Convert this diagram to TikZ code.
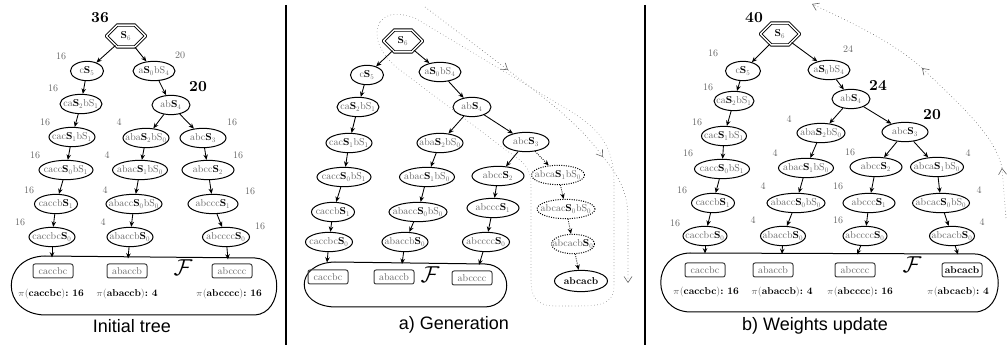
\documentclass[tikz,border=0pt]{standalone}
\usepackage{fontspec}
\setsansfont{Liberation Sans}
\newfontfamily\tenrm{lmroman10-regular}[Extension=.otf, BoldFont=lmroman10-bold]
\usetikzlibrary{shapes.geometric,shapes.misc,arrows.meta}
\definecolor{tg}{gray}{0.4}
\newcommand{\myB}[1]{\textcolor{black}{\textbf{S}}\textsubscript{#1}}
\newcommand{\myN}[1]{S\textsubscript{#1}}
\newcommand{\myP}[2]{\textcolor{tg}{$\pi$(}\textbf{#1}\textcolor{tg}{)}\textbf{:\ #2}}
\newcommand{\nfont}{\tenrm\fontsize{7.5}{9}\selectfont}
\tikzset{
 nd/.style={ellipse, draw, line width=0.75pt, inner xsep=-30pt, inner ysep=-10pt, minimum width={#1*0.75pt}, minimum height=14.5pt, font=\nfont, text=tg},
 nd/.default=46,
 dnd/.style={nd=#1, densely dotted},
 dnd/.default=46,
 rootnd/.style={chamfered rectangle, chamfered rectangle xsep=4pt, chamfered rectangle ysep=4pt, draw, double, double distance=1.1pt, line width=0.65pt, minimum width=29pt, minimum height=16pt, inner sep=1pt, font=\nfont, text=tg},
 bx/.style={rounded corners=1.5pt, draw=black!75, line width=0.75pt, minimum width=30pt, minimum height=10.5pt, inner sep=1.2pt, font=\nfont, text=tg},
 wt/.style={font=\nfont, text=tg},
 bw/.style={font=\tenrm\fontsize{11.5}{13}\selectfont\bfseries},
 ed/.style={-{Stealth[length=4pt,width=3.4pt]}, line width=0.65pt},
 ded/.style={ed, densely dotted},
 pl/.style={font=\nfont},
 blob/.style={line width=0.75pt},
 encl/.style={dotted, draw=black!55, line width=0.4pt},
 garr/.style={dotted, draw=black!60, line width=0.45pt, -{Straight Barb[length=4.5pt,width=6pt]}},
 capt/.style={font=\fontsize{13.5}{16}\selectfont\sffamily},
 sep/.style={line width=0.8pt}
}
\begin{document}
\begin{tikzpicture}[x=0.75pt,y=-0.75pt]
\useasboundingbox (0,0) rectangle (1007,345);
% separators
\coordinate (s1a) at (286,5); \coordinate (s1b) at (286,345);
\coordinate (s2a) at (645,5); \coordinate (s2b) at (645,345);
\draw[sep] (s1a) -- (s1b);
\draw[sep] (s2a) -- (s2b);

%================ LEFT PANEL
\draw[blob] (45,256) -- (255,258) .. controls (284,259) and (284,313) .. (255,315) -- (45,315) .. controls (0,314) and (0,257) .. (45,256) -- cycle;
\node[rootnd] (L0) at (126,36) {\myB{6}};
\node[nd=33] (L1) at (87,71) {c\myB{5}};
\node[nd=42] (L2) at (154,71) {a\myB{0}b\myN{4}};
\node[nd=42] (L3) at (81,104) {ca\myB{2}b\myN{1}};
\node[nd=38] (L4) at (171,105) {ab\myB{4}};
\node[nd=46] (L5) at (72,137) {cac\myB{1}b\myN{1}};
\node[nd=46] (L6) at (146,138) {aba\myB{2}b\myN{0}};
\node[nd=46] (L7) at (203,138) {abc\myB{3}};
\node[nd=54] (L8) at (66,170) {cacc\myB{0}b\myN{1}};
\node[nd=55] (L9) at (140,170) {abac\myB{1}b\myN{0}};
\node[nd=52] (L10) at (208,170) {abcc\myB{2}};
\node[nd=43] (L11) at (56,204) {caccb\myB{1}};
\node[nd=56] (L12) at (134,204) {abacc\myB{0}b\myN{0}};
\node[nd=50] (L13) at (213,204) {abccc\myB{1}};
\node[nd=46] (L14) at (52,237) {caccbc\myB{0}};
\node[nd=46] (L15) at (130,237) {abaccb\myB{0}};
\node[nd=47] (L16) at (226,237) {abcccc\myB{0}};
\foreach \a/\b in {0/1,0/2,1/3,3/5,5/8,8/11,11/14,2/4,4/6,4/7,6/9,9/12,12/15,7/10,10/13,13/16}
  \draw[ed] (L\a) -- (L\b);
\coordinate (Lf14) at (52,257.5);
\coordinate (Lf15) at (128,258.5);
\coordinate (Lf16) at (228,259.5);
\draw[ed] (L14) -- (Lf14);
\draw[ed] (L15) -- (Lf15);
\draw[ed] (L16) -- (Lf16);
\node[bx] (Lb1) at (53,271) {caccbc};
\node[bx] (Lb2) at (127,271) {abaccb};
\node[bx] (Lb3) at (232,271) {abcccc};
\node[font=\LARGE] (LF) at (183,268) {$\mathcal{F}$};
\node[pl] (Lp1) at (51,294) {\myP{caccbc}{16}};
\node[pl] (Lp2) at (127,294) {\myP{abaccb}{4}};
\node[pl] (Lp3) at (229,294) {\myP{abcccc}{16}};
\node[bw] (Lw0) at (100,18) {36};
\node[bw] (Lw4) at (198,87) {20};
\node[wt] (Lw1) at (61,56) {16};
\node[wt] (Lw2) at (180,55) {20};
\node[wt] (Lw3) at (53,88) {16};
\node[wt] (Lw5) at (45,122) {16};
\node[wt] (Lw6) at (119,122) {4};
\node[wt] (Lw7) at (232,122) {16};
\node[wt] (Lw8) at (35,155) {16};
\node[wt] (Lw9) at (107,155) {4};
\node[wt] (Lw10) at (238,155) {16};
\node[wt] (Lw11) at (29,190) {16};
\node[wt] (Lw12) at (105,190) {4};
\node[wt] (Lw13) at (250,191) {16};
\node[wt] (Lw14) at (20,222) {16};
\node[wt] (Lw15) at (103,222) {4};
\node[wt] (Lw16) at (260,226) {16};
\node[capt] (Lc) at (132,326) {Initial tree};

%================ MIDDLE PANEL
\draw[encl] (380,22) .. controls (388,12) and (400,13) .. (415,18) -- (560,105) .. controls (605,130) and (614,150) .. (614,185) -- (614,285) .. controls (614,305) and (600,306) .. (575,306) -- (555,306) .. controls (535,306) and (531,295) .. (531,280) -- (531,185) .. controls (531,170) and (525,162) .. (510,153) -- (400,70) .. controls (380,55) and (372,35) .. (380,22) -- cycle;
\coordinate (ga1) at (425,7);
\coordinate (ga2) at (508,70);
\coordinate (ga3) at (603,157);
\coordinate (ga4) at (628,283);
\draw[garr] (ga1) -- (ga2);
\draw[garr] (ga2) .. controls (550,102) and (580,125) .. (ga3);
\draw[garr] (ga3) .. controls (622,180) and (628,195) .. (628,220) -- (ga4);
\draw[blob] (335,262) -- (485,264) .. controls (514,265) and (514,306) .. (485,307) -- (335,307) .. controls (294,306) and (294,263) .. (335,262) -- cycle;
\node[rootnd] (M0) at (403,41) {\myB{6}};
\node[nd=33] (M1) at (367,75) {c\myB{5}};
\node[nd=42] (M2) at (440,72) {a\myB{0}b\myN{4}};
\node[nd=42] (M3) at (358,107) {ca\myB{2}b\myN{1}};
\node[nd=38] (M4) at (472,107) {ab\myB{4}};
\node[nd=46] (M5) at (349,143) {cac\myB{1}b\myN{1}};
\node[nd=46] (M6) at (440,143) {aba\myB{2}b\myN{0}};
\node[nd=46] (M7) at (526,142) {abc\myB{3}};
\node[nd=54] (M8) at (344,177) {cacc\myB{0}b\myN{1}};
\node[nd=55] (M9) at (427,177) {abac\myB{1}b\myN{0}};
\node[nd=52] (M10) at (498,176) {abcc\myB{2}};
\node[nd=43] (M11) at (333,212) {caccb\myB{1}};
\node[nd=58] (M12) at (418,212) {abacc\myB{0}b\myN{0}};
\node[nd=52] (M13) at (493,208) {abccc\myB{1}};
\node[nd=47] (M14) at (329,242) {caccbc\myB{0}};
\node[nd=46] (M15) at (405,242) {abaccb\myB{0}};
\node[nd=47] (M16) at (486,242) {abcccc\myB{0}};
\node[dnd=53] (M17) at (558,175) {abca\myB{1}b\myN{0}};
\node[dnd=58] (M18) at (566,209) {abcac\myB{0}b\myN{0}};
\node[dnd=43] (M19) at (573,244) {abcacb\myB{0}};
\node[nd=53, text=black, font=\nfont\bfseries, minimum height=16pt] (M20) at (581,281) {abcacb};
\foreach \a/\b in {0/1,0/2,1/3,3/5,5/8,8/11,11/14,2/4,4/6,4/7,6/9,9/12,12/15,7/10,10/13,13/16}
  \draw[ed] (M\a) -- (M\b);
\foreach \a/\b in {7/17,17/18,18/19,19/20}
  \draw[ded] (M\a) -- (M\b);
\coordinate (Mf14) at (327,262.5);
\coordinate (Mf15) at (402,264);
\coordinate (Mf16) at (479,265);
\draw[ed] (M14) -- (Mf14);
\draw[ed] (M15) -- (Mf15);
\draw[ed] (M16) -- (Mf16);
\node[bx] (Mb1) at (328,277) {caccbc};
\node[bx] (Mb2) at (394,277) {abaccb};
\node[bx] (Mb3) at (472,278) {abcccc};
\node[font=\LARGE] (MF) at (430,275) {$\mathcal{F}$};
\node[capt] (Mc) at (454,325) {a) Generation};

%================ RIGHT PANEL
\coordinate (gb1) at (1006,218);
\coordinate (gb2) at (1002,168);
\coordinate (gb3) at (922,68);
\coordinate (gb4) at (812,4);
\draw[garr] (gb1) -- (gb2);
\draw[garr] (gb2) .. controls (995,135) and (960,105) .. (gb3);
\draw[garr] (gb3) .. controls (890,40) and (850,22) .. (gb4);
\draw[blob] (690,253) -- (975,254) .. controls (1006,255) and (1006,311) .. (975,312) -- (690,312) .. controls (651,311) and (651,254) .. (690,253) -- cycle;
\node[rootnd] (R0) at (780,34) {\myB{6}};
\node[nd=35] (R1) at (743,71) {c\myB{5}};
\node[nd=42] (R2) at (829,70) {a\myB{0}b\myN{4}};
\node[nd=40] (R3) at (734,101) {ca\myB{2}b\myN{1}};
\node[nd=38] (R4) at (851,99) {ab\myB{4}};
\node[nd=45] (R5) at (724,136) {cac\myB{1}b\myN{1}};
\node[nd=48] (R6) at (821,133) {aba\myB{2}b\myN{0}};
\node[nd=46] (R7) at (905,132) {abc\myB{3}};
\node[nd=55] (R8) at (722,169) {cacc\myB{0}b\myN{1}};
\node[nd=55] (R9) at (806,168) {abac\myB{1}b\myN{0}};
\node[nd=52] (R10) at (876,167) {abcc\myB{2}};
\node[nd=43] (R11) at (713,203) {caccb\myB{1}};
\node[nd=58] (R12) at (796,203) {abacc\myB{0}b\myN{0}};
\node[nd=52] (R13) at (869,203) {abccc\myB{1}};
\node[nd=44] (R14) at (705,236) {caccbc\myB{0}};
\node[nd=45] (R15) at (783,236) {abaccb\myB{0}};
\node[nd=44] (R16) at (865,236) {abcccc\myB{0}};
\node[nd=53] (R17) at (937,167) {abca\myB{1}b\myN{0}};
\node[nd=57] (R18) at (941,203) {abcac\myB{0}b\myN{0}};
\node[nd=45] (R19) at (952,236) {abcacb\myB{0}};
\foreach \a/\b in {0/1,0/2,1/3,3/5,5/8,8/11,11/14,2/4,4/6,4/7,6/9,9/12,12/15,7/10,10/13,13/16,7/17,17/18,18/19}
  \draw[ed] (R\a) -- (R\b);
\coordinate (Rf14) at (705,253.5);
\coordinate (Rf15) at (782,254);
\coordinate (Rf16) at (857,254.5);
\coordinate (Rf19) at (958,254.5);
\draw[ed] (R14) -- (Rf14);
\draw[ed] (R15) -- (Rf15);
\draw[ed] (R16) -- (Rf16);
\draw[ed] (R19) -- (Rf19);
\node[bx] (Rb1) at (705,270) {caccbc};
\node[bx] (Rb2) at (773,270) {abaccb};
\node[bx] (Rb3) at (855,270) {abcccc};
\node[bx, text=black, font=\nfont\bfseries] (Rb4) at (962,270) {abcacb};
\node[font=\LARGE] (RF) at (912,265) {$\mathcal{F}$};
\node[pl] (Rp1) at (706,292) {\myP{caccbc}{16}};
\node[pl] (Rp2) at (782,292) {\myP{abaccb}{4}};
\node[pl] (Rp3) at (860,292) {\myP{abcccc}{16}};
\node[pl] (Rp4) at (958,292) {\myP{abcacb}{4}};
\node[bw] (Rw0) at (754,18) {40};
\node[bw] (Rw4) at (878,85) {24};
\node[bw] (Rw7) at (932,115) {20};
\node[wt] (Rw1) at (713,53) {16};
\node[wt] (Rw2) at (848,49) {24};
\node[wt] (Rw3) at (708,87) {16};
\node[wt] (Rw5) at (697,122) {16};
\node[wt] (Rw6) at (789,119) {4};
\node[wt] (Rw8) at (688,153) {16};
\node[wt] (Rw9) at (775,153) {4};
\node[wt] (Rw10) at (850,152) {16};
\node[wt] (Rw17) at (968,153) {4};
\node[wt] (Rw11) at (682,190) {16};
\node[wt] (Rw12) at (763,186) {4};
\node[wt] (Rw13) at (838,186) {16};
\node[wt] (Rw18) at (979,190) {4};
\node[wt] (Rw14) at (675,223) {16};
\node[wt] (Rw15) at (753,220) {4};
\node[wt] (Rw16) at (838,220) {16};
\node[wt] (Rw19) at (982,222) {4};
\node[capt] (Rc) at (815,326) {b) Weights update};
\end{tikzpicture}
\end{document}
